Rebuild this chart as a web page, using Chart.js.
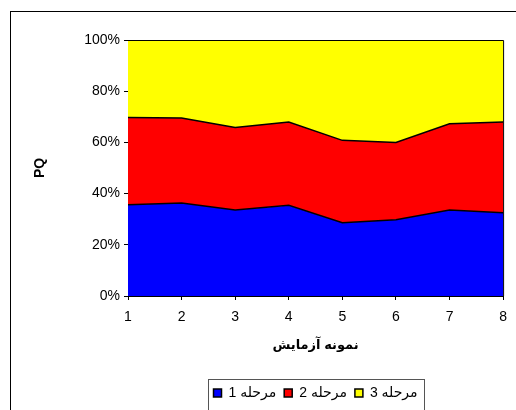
<!DOCTYPE html>
<html>
<head>
<meta charset="utf-8">
<script src="https://cdn.jsdelivr.net/npm/chart.js@4.4.1/dist/chart.umd.min.js"></script>
<style>
  html, body { margin: 0; padding: 0; background: #ffffff; }
  #wrap { position: relative; width: 516px; height: 410px; }
</style>
</head>
<body>
<div id="wrap"><canvas id="pqChart" width="516" height="410"></canvas></div>
<script>
// نمونه های آزمایش (محور افقی)
const samples = ['1', '2', '3', '4', '5', '6', '7', '8'];

// سهم هر مرحله به درصد (خوانده شده از تصویر)
const stage1 = [35.6, 36.3, 33.6, 35.4, 28.6, 29.8, 33.6, 32.5];
const stage2 = [34.1, 33.2, 32.2, 32.6, 32.2, 30.2, 33.7, 35.5];
const stage3 = [30.3, 30.5, 34.2, 32.0, 39.2, 40.0, 32.7, 32.0];

const seriesNames = ['مرحله 1', 'مرحله 2', 'مرحله 3'];
const yTicks = [0, 20, 40, 60, 80, 100];

const fontFamily = '"Liberation Sans", Arial, "DejaVu Sans", sans-serif';

// قاب دور نمودار، قاب ناحیه رسم و قاب راهنما
const framePlugin = {
    id: 'frames',
    afterDraw(chart) {
        const ctx = chart.ctx;
        const a = chart.chartArea;
        ctx.save();
        ctx.strokeStyle = '#000000';
        ctx.lineWidth = 1;
        // outer frame
        ctx.strokeRect(10.5, 11.5, 530, 430);
        // plot area top/right edges
        ctx.beginPath();
        ctx.moveTo(a.left, a.top + 0.5);
        ctx.lineTo(a.right + 0.5, a.top + 0.5);
        ctx.lineTo(a.right + 0.5, a.bottom);
        ctx.stroke();
        // legend box
        const hb = chart.legend.legendHitBoxes;
        if (hb && hb.length) {
            const l = Math.min(...hb.map(h => h.left)) - 6;
            const r = Math.max(...hb.map(h => h.left + h.width)) + 6;
            ctx.strokeStyle = '#555555';
            ctx.strokeRect(Math.round(l) + 0.5, 379.5, Math.round(r - l), 32);
        }
        ctx.restore();
    }
};

const commonLine = {
    borderColor: '#000000',
    borderWidth: 1.5,
    pointRadius: 0,
    tension: 0,
};

new Chart(document.getElementById('pqChart').getContext('2d'), {
    type: 'line',
    data: {
        labels: samples,
        datasets: [
            { ...commonLine, label: seriesNames[0], data: stage1, backgroundColor: '#0000ff', fill: 'origin' },
            { ...commonLine, label: seriesNames[1], data: stage2, backgroundColor: '#ff0000', fill: '-1' },
            { ...commonLine, label: seriesNames[2], data: stage3, backgroundColor: '#ffff00', fill: '-1' },
        ],
    },
    options: {
        responsive: false,
        animation: false,
        layout: { padding: { left: 0, right: 12, top: 40, bottom: 0 } },
        plugins: {
            tooltip: { enabled: false },
            legend: {
                position: 'bottom',
                fullSize: false,
                labels: {
                    color: '#000000',
                    boxWidth: 8,
                    boxHeight: 8,
                    padding: 8,
                    font: { size: 14, family: fontFamily },
                },
            },
        },
        scales: {
            y: {
                stacked: true,
                min: 0,
                max: 100,
                afterFit: (s) => { s.width = 128; },
                afterBuildTicks: (s) => { s.ticks = yTicks.map(v => ({ value: v })); },
                border: { color: '#000000', width: 1 },
                grid: { drawOnChartArea: false, drawTicks: true, tickLength: 4, color: '#000000' },
                ticks: {
                    color: '#000000',
                    padding: 4,
                    font: { size: 14, family: fontFamily },
                    callback: (v) => v + '%',
                },
                title: {
                    display: true,
                    text: 'PQ',
                    color: '#000000',
                    padding: { top: 32, bottom: 0 },
                    font: { size: 14, weight: 'bold', family: fontFamily },
                },
            },
            x: {
                offset: false,
                afterFit: (s) => { s.height = 82; },
                border: { color: '#000000', width: 1 },
                grid: { drawOnChartArea: false, drawTicks: true, tickLength: 4, color: '#000000', offset: false },
                ticks: {
                    color: '#000000',
                    padding: 9,
                    maxRotation: 0,
                    font: { size: 14, family: fontFamily },
                },
                title: {
                    display: true,
                    text: 'نمونه آزمایش',
                    color: '#000000',
                    padding: { top: 0, bottom: 25 },
                    font: { size: 13, weight: 'bold', family: fontFamily },
                },
            },
        },
    },
    plugins: [framePlugin],
});
</script>
</body>
</html>
